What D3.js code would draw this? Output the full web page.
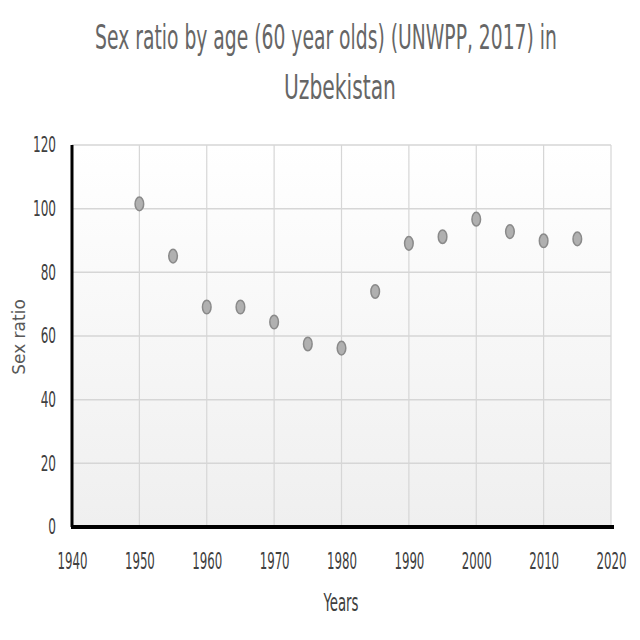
<!DOCTYPE html>
<html><head><meta charset="utf-8">
<script src="https://cdn.jsdelivr.net/npm/d3@7"></script>
<style>body{margin:0;background:#fff}</style>
</head><body>
<svg id="c" width="640" height="640"></svg>
<script>
const years = [1950,1955,1960,1965,1970,1975,1980,1985,1990,1995,2000,2005,2010,2015];
const sexRatio = [101.5,85.1,69.1,69.1,64.4,57.5,56.2,74.0,89.1,91.2,96.7,92.8,89.9,90.5];
const xTicks = [1940,1950,1960,1970,1980,1990,2000,2010,2020];
const yTicks = [0,20,40,60,80,100,120];
const titleLines = ["Sex ratio by age (60 year olds) (UNWPP, 2017) in","Uzbekistan"];

const svg = d3.select("#c");
const m = {l:72, r:611, t:145, b:527};
const x = d3.scaleLinear().domain([1940,2020]).range([m.l,m.r]);
const y = d3.scaleLinear().domain([0,120]).range([m.b,m.t]);
const cond = "'DejaVu Sans Condensed','Open Sans',sans-serif";

// horizontal squeeze factor so a text gets a target width
function squeeze(node, target){
  const w = node.getComputedTextLength();
  return w > 0 ? Math.min(1, target / w) : 1;
}

const defs = svg.append("defs");
const g = defs.append("linearGradient").attr("id","bg").attr("x1",0).attr("y1",0).attr("x2",0).attr("y2",1);
g.append("stop").attr("offset","0%").attr("stop-color","#ffffff");
g.append("stop").attr("offset","100%").attr("stop-color","#efefef");
svg.append("rect").attr("x",m.l).attr("y",m.t).attr("width",m.r-m.l).attr("height",m.b-m.t).attr("fill","url(#bg)");

// title
const titlePos = [[326,49,462],[340,99,112]];
svg.selectAll("text.title").data(titleLines).enter().append("text")
  .attr("class","title").attr("text-anchor","middle").attr("fill","#666666")
  .style("font-family",cond).style("font-size","34px")
  .text(d=>d)
  .each(function(d,i){
    const s = squeeze(this, titlePos[i][2]);
    d3.select(this).attr("transform",`translate(${titlePos[i][0]},${titlePos[i][1]}) scale(${s},1)`);
  });

// gridlines
svg.append("g").selectAll("line").data(yTicks.filter(d=>d>0)).enter().append("line")
  .attr("x1",m.l).attr("x2",m.r).attr("y1",d=>y(d)).attr("y2",d=>y(d))
  .attr("stroke","#d6d6d6").attr("stroke-width",1.5);
svg.append("g").selectAll("line").data(xTicks.filter(d=>d>1940)).enter().append("line")
  .attr("x1",d=>x(d)).attr("x2",d=>x(d)).attr("y1",m.t).attr("y2",m.b)
  .attr("stroke","#d6d6d6").attr("stroke-width",1.2);

// axes
const yAxis = svg.append("g").attr("transform",`translate(${m.l},0)`)
  .call(d3.axisLeft(y).tickValues(yTicks).tickSize(0).tickPadding(16));
yAxis.select(".domain").attr("stroke","#000").attr("stroke-width",3).attr("d",`M0,${m.t}V${m.b}`);
yAxis.selectAll("text").attr("fill","#404040").style("font-family",cond).style("font-size","21px")
  .each(function(d){
    const s = squeeze(this, String(d).length*7.7);
    d3.select(this).attr("x",-16/s).attr("transform",`scale(${s},1)`);
  });

const xAxis = svg.append("g").attr("transform",`translate(0,${m.b})`)
  .call(d3.axisBottom(x).tickValues(xTicks).tickFormat(d3.format("d")).tickSize(0).tickPadding(0));
xAxis.select(".domain").attr("stroke","#000").attr("stroke-width",4).attr("d",`M${m.l-1},0H${m.r+3}`);
xAxis.selectAll("text").attr("fill","#404040").style("font-family",cond).style("font-size","23px")
  .attr("y",42).attr("dy",0)
  .each(function(){
    const s = squeeze(this, 30);
    d3.select(this).attr("transform",`scale(${s},1)`);
  });

// axis titles
svg.append("text").attr("text-anchor","middle")
  .attr("fill","#404040").style("font-family",cond).style("font-size","24px").text("Years")
  .each(function(){
    const s = squeeze(this, 35);
    d3.select(this).attr("transform",`translate(341,611) scale(${s},1)`);
  });
svg.append("text").attr("text-anchor","middle")
  .attr("fill","#595959").style("font-family","'DejaVu Sans',sans-serif").style("font-size","17px").text("Sex ratio")
  .each(function(){
    const s = squeeze(this, 89);
    d3.select(this).attr("transform",`translate(25,337) rotate(-90) scale(${s},1)`);
  });

// points
svg.append("g").selectAll("ellipse").data(years.map((d,i)=>[d,sexRatio[i]])).enter().append("ellipse")
  .attr("cx",d=>x(d[0])).attr("cy",d=>y(d[1])).attr("rx",4.3).attr("ry",6.8)
  .attr("fill","#b0b0b0").attr("stroke","#8a8a8a").attr("stroke-width",1.5);
</script>
</body></html>
